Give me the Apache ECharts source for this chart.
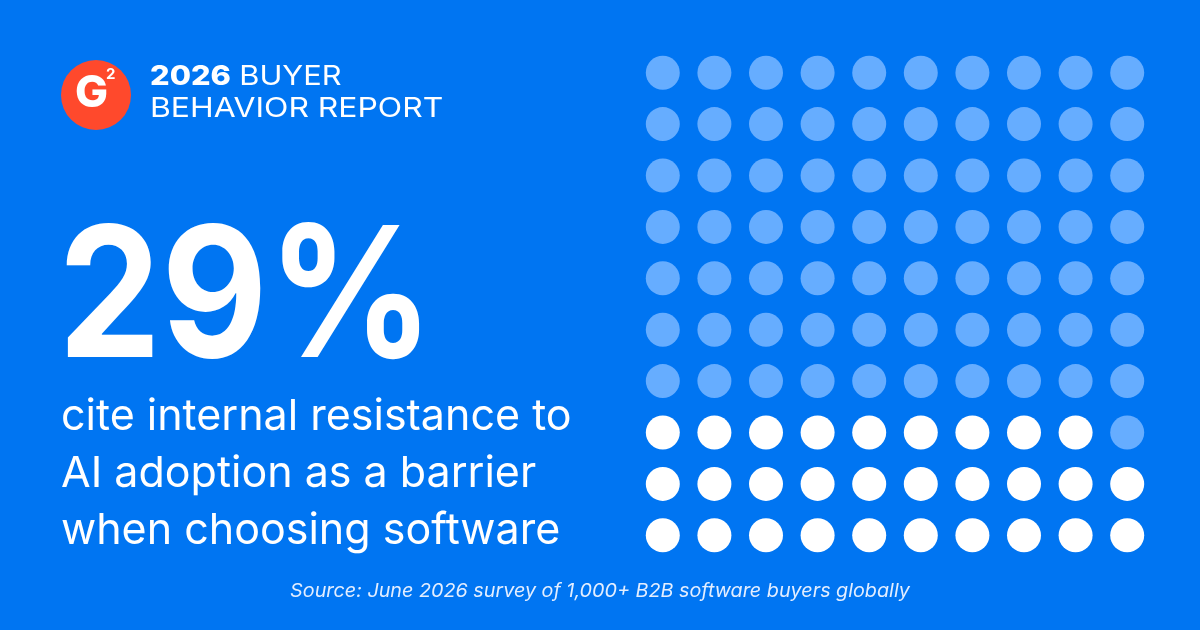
<!DOCTYPE html>
<html>
<head>
<meta charset="utf-8">
<script src="https://cdn.jsdelivr.net/npm/echarts@6/dist/echarts.min.js"></script>
<style>
html,body{margin:0;padding:0;background:#0075F2;}
#c{width:1200px;height:630px;}
</style>
</head>
<body>
<div id="c"></div>
<script>
// ---- data ----
const percentValue = 29;
const gridColumns = [0, 1, 2, 3, 4, 5, 6, 7, 8, 9];
const gridRows = [0, 1, 2, 3, 4, 5, 6, 7, 8, 9];
const headlineText = '29%';
const titleLines = ['2026', 'BUYER', 'BEHAVIOR REPORT'];
const bodyLines = ['cite internal resistance to', 'AI adoption as a barrier', 'when choosing software'];
const sourceText = 'Source: June 2026 survey of 1,000+ B2B software buyers globally';

// build waffle cells: filled from bottom-left, row by row
const highlighted = [];
const rest = [];
gridRows.forEach(function (r) {
  gridColumns.forEach(function (c) {
    const idx = r * gridColumns.length + c;
    (idx < percentValue ? highlighted : rest).push([c, r]);
  });
});

const chart = echarts.init(document.getElementById('c'), null, {renderer: 'canvas'});
const font = 'Inter, "Noto Sans", sans-serif';
chart.setOption({
  backgroundColor: '#0075F2',
  animation: false,
  grid: {left: 637, top: 47, width: 516, height: 514},
  xAxis: {type: 'value', min: -0.5, max: 9.5, show: false},
  yAxis: {type: 'value', min: -0.5, max: 9.5, show: false},
  series: [
    {type: 'scatter', data: rest, symbolSize: 34, itemStyle: {color: '#66ADFF', opacity: 1}, silent: true},
    {type: 'scatter', data: highlighted, symbolSize: 34, itemStyle: {color: '#FFFFFF', opacity: 1}, silent: true}
  ],
  graphic: [
    {type: 'circle', shape: {cx: 96, cy: 95, r: 35}, style: {fill: '#FF492C'}},
    {type: 'text', x: 75, y: 72, style: {text: 'G', font: '800 44px ' + font, fill: '#fff'}},
    {type: 'text', x: 106, y: 67, style: {text: '2', font: '700 15px ' + font, fill: '#fff'}},
    {type: 'text', x: 150, y: 63, scaleX: 1.14, style: {
      text: '{b|' + titleLines[0] + '} {r|' + titleLines[1] + '}',
      rich: {
        b: {font: '800 27px ' + font, fill: '#fff', padding: [0, 4, 0, 0]},
        r: {font: '400 27px ' + font, fill: '#fff'}
      }, fill: '#fff'
    }},
    {type: 'text', x: 150, y: 95, scaleX: 1.18, style: {text: titleLines[2], font: '400 27px ' + font, fill: '#fff'}},
    {type: 'text', x: 58, y: 211, scaleX: 0.9, style: {text: headlineText, font: '700 182px ' + font, fill: '#fff'}},
    {type: 'text', x: 61, y: 389, style: {text: bodyLines.join('\n'), font: '400 43px ' + font, lineHeight: 57, fill: '#fff'}},
    {type: 'text', x: 600, y: 591, scaleX: 1.04, style: {text: sourceText, font: 'italic 400 19px ' + font, fill: '#E3EEFF', align: 'center', verticalAlign: 'middle'}}
  ]
});
</script>
</body>
</html>
